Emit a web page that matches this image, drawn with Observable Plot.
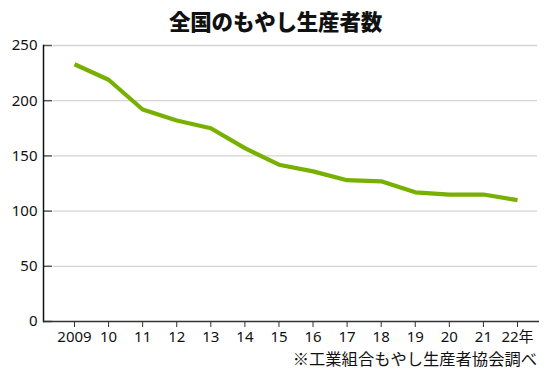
<!DOCTYPE html>
<html>
<head>
<meta charset="utf-8">
<script src="https://cdn.jsdelivr.net/npm/d3@7"></script>
<script src="https://cdn.jsdelivr.net/npm/@observablehq/plot@0.6"></script>
<style>
  body { margin: 0; background: #fff; font-family: "Noto Sans CJK JP", "Noto Sans", sans-serif; }
  #wrap { position: relative; width: 550px; height: 380px; }
  #title { position: absolute; left: 0; width: 551px; top: 8px; text-align: center; font-size: 21.5px; font-weight: 900; color: #111; line-height: 26px; letter-spacing: -0.2px; z-index: 2; }
  #chart { position: absolute; left: 0; top: 26px; }
  #caption { position: absolute; right: 13px; top: 350px; font-size: 16.3px; color: #111; line-height: 17px; letter-spacing: 0px; }
</style>
</head>
<body>
<div id="wrap">
  <div id="title">全国のもやし生産者数</div>
  <div id="chart"></div>
  <div id="caption">※工業組合もやし生産者協会調べ</div>
</div>
<script>
const years = [2009, 2010, 2011, 2012, 2013, 2014, 2015, 2016, 2017, 2018, 2019, 2020, 2021, 2022];
const producers = [233, 219, 192, 182, 175, 157, 142, 136, 128, 127, 117, 115, 115, 110];
const xTickLabels = ["2009", "10", "11", "12", "13", "14", "15", "16", "17", "18", "19", "20", "21", "22年"];
const yTicks = [0, 50, 100, 150, 200, 250];

const data = years.map((y, i) => ({year: y, value: producers[i]}));
const W = 550, ML = 43, MR = 11;

const chart = Plot.plot({
  width: W,
  height: 321,
  marginTop: 19,
  marginBottom: 26,
  marginLeft: ML,
  marginRight: MR,
  style: {fontFamily: "'Noto Sans', 'Noto Sans CJK JP', sans-serif", fontSize: "15px", color: "#111", background: "transparent"},
  x: {domain: [2009, 2022], range: [74, 517], axis: null},
  y: {domain: [0, 250], axis: null},
  marks: [
    Plot.ruleY(yTicks.filter(d => d > 0), {stroke: "#d4d4d4", strokeWidth: 1.3, insetLeft: 10, insetRight: 2}),
    Plot.ruleY(yTicks, {stroke: "#555", strokeWidth: 1.5, insetRight: W - ML - MR - 9}),
    Plot.axisY({ticks: yTicks, tickSize: 0, tickPadding: 6, fontSize: 15, fill: "#111", label: null}),
    Plot.axisX({ticks: years, tickFormat: d => xTickLabels[years.indexOf(d)], tickSize: 6, tickPadding: 4, fontSize: 15, stroke: "#333", fill: "#111", label: null}),
    Plot.frame({anchor: "left", stroke: "#111", strokeWidth: 1.5}),
    Plot.ruleY([0], {stroke: "#333", strokeWidth: 1.5}),
    Plot.line(data, {x: "year", y: "value", stroke: "#78b000", strokeWidth: 4.2, strokeLinejoin: "round", strokeLinecap: "butt"})
  ]
});
document.getElementById("chart").appendChild(chart);
</script>
</body>
</html>
